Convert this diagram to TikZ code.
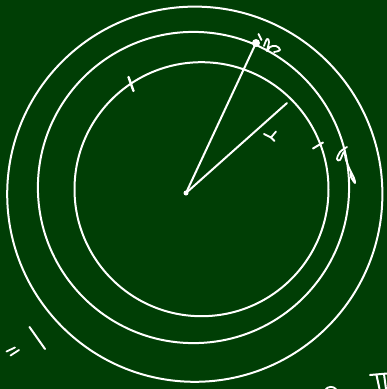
\documentclass[tikz,border=0pt]{standalone}
\definecolor{board}{RGB}{0,62,5}
\begin{document}
\begin{tikzpicture}[x=1pt,y=-1pt,
  chalk/.style={draw=white,line width=2pt,line cap=round,line join=round},
  thin chalk/.style={draw=white,line width=1.8pt,line cap=round,line join=round}]
\fill[board] (0,0) rectangle (387,389);
\useasboundingbox (0,0) rectangle (387,389);
% circles
\draw[chalk] (201.5,189.2) circle[radius=127];
\draw[chalk] (193.5,187.5) circle[radius=155.6];
\draw[chalk] (194.8,194.2) circle[radius=187.6];
% center and points
\coordinate (O) at (186,193);
\coordinate (B) at (256,43);
\coordinate (R) at (287,103);
\draw[chalk] (O) -- (B);
\draw[chalk] (O) -- (R);
\fill[white] (O) circle[radius=2.5];
\fill[white] (B) circle[radius=4];
% tick above B
\draw[thin chalk] (258.5,34) -- (261.5,40);
% letter near B
\draw[thin chalk] plot[smooth,tension=0.7] coordinates {(264,46) (267,39) (269,42) (267,51) (270,47) (276,46) (280,50) (274,52)};
% ticks on inner circle
\draw[chalk,line width=2.4pt] (128.5,77) -- (133.5,91);
\draw[chalk] (313,148.5) -- (323,142.5);
% r label
\draw[thin chalk] (264,134) -- (271,137.5) -- (276,131.5);
\draw[thin chalk] (271,137.5) -- (274.5,141);
% squiggle on right of middle circle
\draw[thin chalk] plot[smooth,tension=0.6] coordinates {(347,147) (340,152) (337,159) (340,160) (344,152) (346,160) (350,170) (354,178) (355,183) (351,177) (351,172)};
% marks bottom left
\draw[thin chalk] (6.5,351.5) -- (15,347.5);
\draw[thin chalk] (10.5,355.5) -- (19,350);
\draw[chalk] (29.5,327) -- (45,349);
% pi-like mark bottom right
\draw[chalk] (370,375) -- (387,373.5);
\draw[chalk] (376.5,375) -- (379.5,389);
\draw[chalk] (384,374) -- (386,389);
% small arc bottom
\draw[thin chalk] (325,390) .. controls (328,386) and (333,386) .. (336,389);
\end{tikzpicture}
\end{document}
